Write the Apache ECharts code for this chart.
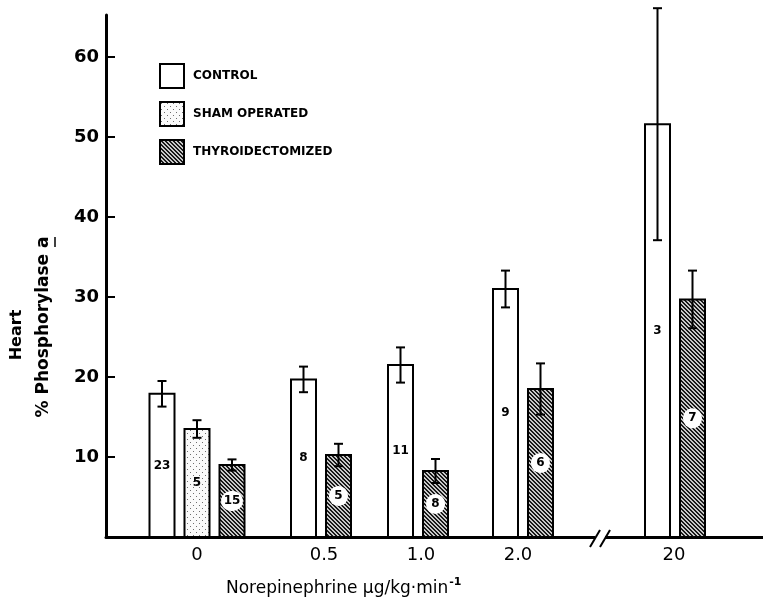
<!DOCTYPE html>
<html>
<head>
<meta charset="utf-8">
<script src="https://cdn.jsdelivr.net/npm/echarts@6/dist/echarts.min.js"></script>
<style>html,body{margin:0;padding:0;background:#fff}#c{width:763px;height:608px}</style>
</head>
<body>
<div id="c"></div>
<script>
// ---- data ----
const categories = ['0', '0.5', '1.0', '2.0', '20'];
const controlMean = [17.9, 19.7, 21.5, 31.0, 51.6];
const controlSE   = [1.6, 1.6, 2.2, 2.3, 14.5];
const controlN    = [23, 8, 11, 9, 3];
const shamMean    = [13.5, null, null, null, null];
const shamSE      = [1.1, null, null, null, null];
const shamN       = [5, null, null, null, null];
const thyroMean   = [9.0, 10.25, 8.25, 18.5, 29.7];
const thyroSE     = [0.7, 1.4, 1.5, 3.2, 3.6];
const thyroN      = [15, 5, 8, 6, 7];
const yTickValues = [10, 20, 30, 40, 50, 60];

// ---- layout (px along x axis from the y axis) ----
const GROUP_X = [91, 215, 312, 417, 569];
const LABEL_X = [91, 218, 315, 412, 568];
const BAR_W = 25, PITCH = 35, CAP = 9;

function pattern(size, painter) {
  const c = document.createElement('canvas');
  c.width = size; c.height = size;
  const ctx = c.getContext('2d');
  const img = ctx.createImageData(size, size);
  for (let y = 0; y < size; y++) for (let x = 0; x < size; x++) {
    const g = painter(x, y);
    const p = (y * size + x) * 4;
    img.data[p] = img.data[p+1] = img.data[p+2] = g; img.data[p+3] = 255;
  }
  ctx.putImageData(img, 0, 0);
  return { image: c, repeat: 'repeat' };
}
const hatch = pattern(4, (x, y) => (((x - y) % 4 + 4) % 4) < 2 ? 25 : 200);
const dots = pattern(6, (x, y) => ((x === 1 && y === 1) || (x === 4 && y === 4)) ? 110 : 250);

const seriesDefs = [
  { name: 'CONTROL', mean: controlMean, se: controlSE, n: controlN, fill: '#ffffff', circle: false },
  { name: 'SHAM OPERATED', mean: shamMean, se: shamSE, n: shamN, fill: dots, circle: false },
  { name: 'THYROIDECTOMIZED', mean: thyroMean, se: thyroSE, n: thyroN, fill: hatch, circle: true }
];

function makeRender(def) {
  return function (params, api) {
    const i = api.value(0), v = api.value(1), se = api.value(2), n = api.value(3);
    const present = seriesDefs.filter(s => s.mean[i] != null);
    const k = present.indexOf(def);
    const xc = GROUP_X[i] + (k - (present.length - 1) / 2) * PITCH;
    const top = api.coord([xc, v]);
    const base = api.coord([xc, 0]);
    const hi = api.coord([xc, v + se]);
    const lo = api.coord([xc, v - se]);
    const w = api.size([BAR_W, 0])[0];
    const ls = { stroke: '#000', lineWidth: 2 };
    const textStyle = {
      text: String(n), x: top[0], y: (top[1] + base[1]) / 2,
      align: 'center', verticalAlign: 'middle',
      font: 'bold 12px "DejaVu Sans"', fill: '#000'
    };
    if (def.circle) {
      Object.assign(textStyle, { backgroundColor: '#fff', borderRadius: 10, padding: [3, 3, 3, 3], width: n >= 10 ? 16 : 13, height: 14 });
    }
    return {
      type: 'group',
      children: [
        { type: 'rect', shape: { x: top[0] - w / 2, y: top[1], width: w, height: base[1] - top[1] },
          style: { fill: def.fill, stroke: '#000', lineWidth: 2 } },
        { type: 'line', shape: { x1: top[0], y1: hi[1], x2: top[0], y2: lo[1] }, style: ls },
        { type: 'line', shape: { x1: top[0] - CAP / 2, y1: hi[1], x2: top[0] + CAP / 2, y2: hi[1] }, style: ls },
        { type: 'line', shape: { x1: top[0] - CAP / 2, y1: lo[1], x2: top[0] + CAP / 2, y2: lo[1] }, style: ls },
        { type: 'text', style: textStyle }
      ]
    };
  };
}

const series = seriesDefs.map(def => ({
  name: def.name,
  type: 'custom',
  itemStyle: { color: def.fill, borderColor: '#000', borderWidth: 2 },
  renderItem: makeRender(def),
  encode: { x: -1, y: 1 },
  data: categories.map((c, i) => [i, def.mean[i], def.se[i], def.n[i]]).filter(d => d[1] != null),
  z: 3
}));

const chart = echarts.init(document.getElementById('c'), null, { renderer: 'canvas' });
chart.setOption({
  animation: false,
  backgroundColor: '#fff',
  grid: { left: 106, right: 0, top: 15, bottom: 71 },
  legend: {
    orient: 'vertical', left: 154, top: 58, itemWidth: 24, itemHeight: 24, itemGap: 12,
    icon: 'rect', selectedMode: false,
    textStyle: { fontFamily: 'DejaVu Sans', fontWeight: 'bold', fontSize: 12, color: '#000', padding: [0, 0, 0, 4] },
    data: seriesDefs.map(d => ({ name: d.name, itemStyle: { color: d.fill, borderColor: '#000', borderWidth: 2 } }))
  },
  xAxis: {
    type: 'value', min: 0, max: 657, splitLine: { show: false },
    axisLine: { show: true, lineStyle: { color: '#000', width: 3 } },
    axisTick: { show: false },
    axisLabel: {
      customValues: LABEL_X, margin: 9, color: '#000',
      fontFamily: 'DejaVu Sans', fontSize: 18,
      formatter: v => categories[LABEL_X.indexOf(v)] || ''
    }
  },
  yAxis: {
    type: 'value', min: 0, max: 65.25, splitLine: { show: false },
    axisLine: { show: true, lineStyle: { color: '#000', width: 3 } },
    axisTick: { show: true, inside: true, length: 9, customValues: yTickValues, lineStyle: { color: '#000', width: 2 } },
    axisLabel: { customValues: yTickValues, margin: 7, color: '#000', fontFamily: 'DejaVu Sans', fontWeight: 'bold', fontSize: 18 }
  },
  title: {
    left: 221, top: 572,
    text: '{a|Norepinephrine μg/kg·min}{s|-1}',
    textStyle: {
      fontWeight: 'normal',
      rich: {
        a: { fontFamily: 'DejaVu Sans', fontSize: 17, fontWeight: 'normal', color: '#000' },
        s: { fontFamily: 'DejaVu Sans', fontSize: 11, fontWeight: 'bold', color: '#000', verticalAlign: 'top', padding: [0, 0, 12, 1] }
      }
    }
  },
  graphic: [
    { type: 'text', x: 17, y: 335, rotation: Math.PI / 2,
      style: { text: 'Heart', font: 'bold 16px "DejaVu Sans"', fill: '#000', align: 'center', verticalAlign: 'middle' } },
    { type: 'text', x: 44, y: 327, rotation: Math.PI / 2,
      style: { text: '% Phosphorylase a', font: 'bold 17px "DejaVu Sans"', fill: '#000', align: 'center', verticalAlign: 'middle' } },
    { type: 'line', shape: { x1: 55, y1: 237, x2: 55, y2: 247 }, style: { stroke: '#000', lineWidth: 1.5 } },
    { type: 'rect', shape: { x: 595, y: 532, width: 10, height: 10 }, style: { fill: '#fff' }, z: 10 },
    { type: 'line', shape: { x1: 590, y1: 547, x2: 600, y2: 530 }, style: { stroke: '#000', lineWidth: 2 }, z: 11 },
    { type: 'line', shape: { x1: 600, y1: 547, x2: 610, y2: 530 }, style: { stroke: '#000', lineWidth: 2 }, z: 11 }
  ],
  series: series
});
</script>
</body>
</html>
